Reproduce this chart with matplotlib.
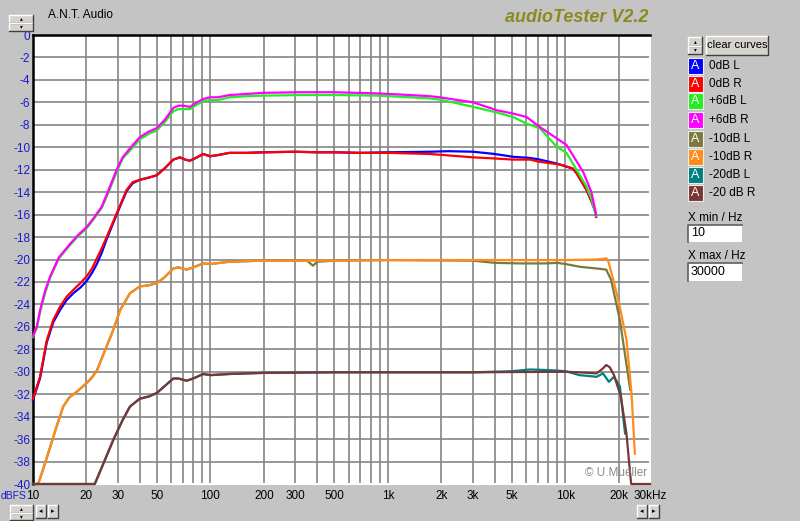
import matplotlib
matplotlib.use("Agg")
import matplotlib.pyplot as plt
from matplotlib.patches import Rectangle

# ---- data (Hz, dBFS) ----
F_0L = [10, 10.95, 11.95, 13.0, 14.2, 15.5, 16.9, 18.5, 20.1, 21.5, 22.9, 24.4, 26, 29.6,
        33.7, 36.5, 40, 45, 49.8, 55, 61.8, 67.3, 72, 76.6, 84, 91, 99.5, 110, 128, 160,
        200, 300, 400, 500, 700, 1000, 1725, 2200, 3026, 4000, 5080, 6300, 7180, 8930,
        11000, 11560, 13160, 14030, 14660, 14900]
DB_0L = [-32.5, -30.6, -27.4, -25.6, -24.5, -23.6, -23.0, -22.5, -21.9, -21.2, -20.4, -19.4,
         -18.2, -16.0, -13.9, -13.2, -12.9, -12.7, -12.5, -11.9, -11.1, -10.9, -11.1, -11.2,
         -10.9, -10.6, -10.8, -10.7, -10.5, -10.5, -10.45, -10.4, -10.45, -10.45, -10.5,
         -10.45, -10.4, -10.35, -10.4, -10.6, -10.85, -10.95, -11.1, -11.45, -11.9, -12.3,
         -13.8, -14.8, -15.6, -16.2]

F_0R = [10, 10.95, 11.95, 13.0, 14.2, 15.5, 16.9, 18.5, 20.1, 21.5, 22.9, 24.4, 26, 29.6,
        33.7, 36.5, 40, 45, 49.8, 55, 61.8, 67.3, 72, 76.6, 84, 91, 99.5, 110, 128, 160,
        200, 300, 400, 500, 700, 1000, 1725, 3026, 4000, 5080, 6310, 7180, 8930, 9680,
        11000, 11560, 13160, 14030, 14660, 14900]
DB_0R = [-32.4, -30.45, -27.2, -25.4, -24.2, -23.3, -22.7, -22.1, -21.5, -20.8, -19.9, -19.0,
         -18.0, -15.9, -13.8, -13.1, -12.9, -12.7, -12.5, -11.9, -11.1, -10.9, -11.1, -11.2,
         -10.9, -10.6, -10.8, -10.7, -10.5, -10.5, -10.45, -10.4, -10.45, -10.45, -10.5,
         -10.5, -10.6, -10.9, -11.0, -11.1, -11.1, -11.3, -11.5, -11.6, -11.9, -12.3,
         -13.8, -14.8, -15.6, -16.2]

F_6 = [10, 10.5, 11, 11.7, 12.5, 14, 16.2, 18, 20.1, 22, 24.4, 27, 29.6, 32, 35.2, 40, 45,
       49.8, 55, 61.8, 66, 70.3, 76.6, 84, 91, 99.5, 110, 128, 160, 200, 319, 500, 864,
       1170, 1725, 1960, 3026, 4095, 5080, 6040, 7180, 8930, 10160]
DB_6L = [-26.9, -26.1, -24.6, -23.0, -21.6, -19.9, -18.7, -17.9, -17.2, -16.4, -15.4, -13.8,
         -12.2, -11.0, -10.3, -9.3, -8.8, -8.5, -7.8, -6.8, -6.6, -6.6, -6.6, -6.2, -5.9,
         -5.8, -5.8, -5.55, -5.45, -5.4, -5.35, -5.35, -5.4, -5.5, -5.65, -5.75, -6.4, -6.9,
         -7.3, -7.9, -8.3, -9.95, -10.5]
F_6L_END = [11560, 13160, 14030, 14860]
DB_6L_END = [-12.0, -13.5, -14.6, -16.1]
DB_6R = [-26.8, -26.0, -24.4, -22.8, -21.5, -19.8, -18.6, -17.8, -17.1, -16.3, -15.3, -13.6,
         -12.0, -10.9, -10.1, -9.1, -8.6, -8.3, -7.6, -6.5, -6.3, -6.3, -6.4, -6.0, -5.7,
         -5.55, -5.55, -5.35, -5.25, -5.15, -5.1, -5.1, -5.2, -5.3, -5.45, -5.55, -6.0, -6.7,
         -7.0, -7.3, -8.2, -9.2, -9.8]
F_6R_END = [12600, 14030, 14660, 14900]
DB_6R_END = [-12.2, -14.0, -15.45, -16.0]

F_M10_LOW = [10, 10.7, 11.5, 12.5, 13.5, 14.8, 16, 17.6, 20.1, 21.5, 22.9, 25, 28.3, 31,
             35.2, 40, 45, 49.8, 55, 61.8, 66, 73.4, 80, 91, 100, 128, 200]
DB_M10_LOW = [-40, -40, -38.5, -36.7, -35.0, -33.1, -32.3, -31.8, -31.0, -30.5, -29.9, -28.4,
              -26.3, -24.5, -23.0, -22.4, -22.3, -22.1, -21.6, -20.8, -20.7, -20.9, -20.7,
              -20.35, -20.4, -20.2, -20.1]
F_M10L_HI = [350, 378, 400, 500, 1000, 3000, 4000, 5540, 7800, 9000, 10000, 12070, 15000,
             17000, 18100, 20300, 23200]
DB_M10L_HI = [-20.1, -20.55, -20.2, -20.1, -20.05, -20.1, -20.3, -20.35, -20.35, -20.3, -20.4,
              -20.65, -20.8, -20.9, -21.8, -25.4, -31.6]
F_M10R_HI = [500, 1000, 3000, 10000, 15000, 17070, 17500, 18620, 20280, 22130, 23600, 24650]
DB_M10R_HI = [-20.1, -20.05, -20.05, -20.05, -20.0, -19.9, -20.2, -21.8, -24.2, -27.2, -31.9,
              -37.3]

F_M20_LOW = [10, 22.3, 28.3, 32, 35.2, 40, 45, 49.8, 55, 61.8, 66, 73.4, 80, 91, 100, 128,
             200, 500, 1000, 3000]
DB_M20_LOW = [-40, -40, -36.1, -34.3, -33.1, -32.4, -32.2, -31.9, -31.3, -30.6, -30.6, -30.8,
              -30.6, -30.2, -30.3, -30.2, -30.1, -30.05, -30.05, -30.05]
F_M20L_HI = [5000, 6300, 8000, 10000, 12000, 15000, 16300, 17600, 18800, 20300, 21700]
DB_M20L_HI = [-29.95, -29.8, -29.85, -29.95, -30.3, -30.45, -30.15, -30.9, -30.45, -31.3, -35.5]
F_M20R_HI = [10000, 12000, 15000, 16300, 17000, 17800, 18800, 19600, 20500, 22100, 23200,
             23500, 30000]
DB_M20R_HI = [-30.0, -30.05, -30.15, -29.7, -29.4, -29.6, -30.3, -31.2, -32.1, -35.5, -39.1,
              -40, -40]

CURVE_NAMES = ["0dB L", "0dB R", "+6dB L", "+6dB R", "-10dB L", "-10dB R", "-20dB L", "-20 dB R"]
CURVE_COLORS = ["#0000ff", "#ff0000", "#22ee22", "#ff00ff", "#7a7a3c", "#ff8c1a", "#008080", "#7a3636"]

CURVES = [
    (F_0L, DB_0L),
    (F_0R, DB_0R),
    (F_6 + F_6L_END, DB_6L + DB_6L_END),
    (F_6 + F_6R_END, DB_6R + DB_6R_END),
    (F_M10_LOW + F_M10L_HI, DB_M10_LOW + DB_M10L_HI),
    (F_M10_LOW + F_M10R_HI, DB_M10_LOW + DB_M10R_HI),
    (F_M20_LOW + F_M20L_HI, DB_M20_LOW + DB_M20L_HI),
    (F_M20_LOW + F_M20R_HI, DB_M20_LOW + DB_M20R_HI),
]

X_TICKS = [10, 20, 30, 50, 100, 200, 300, 500, 1000, 2000, 3000, 5000, 10000, 20000, 30000]
X_LABELS = ["10", "20", "30", "50", "100", "200", "300", "500", "1k", "2k", "3k", "5k",
            "10k", "20k", "30kHz"]
Y_TICKS = list(range(0, -42, -2))

BG = "#c4c4c4"
FACE = "#d6d3ce"
GRID = "#858585"
UI_FONT = ["Liberation Sans", "DejaVu Sans"]
NARROW = ["Liberation Sans Narrow", "Liberation Sans", "DejaVu Sans"]

W, H = 800, 521
fig = plt.figure(figsize=(W / 100, H / 100), dpi=100)
fig.patch.set_facecolor(BG)


def fx(x):
    return x / W


def fy(y):
    return 1 - y / H


def button(x0, y0, w, h, face=FACE):
    # raised windows-style button
    fig.add_artist(Rectangle((fx(x0), fy(y0 + h)), w / W, h / H, transform=fig.transFigure,
                             facecolor=face, edgecolor="none"))
    fig.add_artist(plt.Line2D([fx(x0), fx(x0), fx(x0 + w)], [fy(y0 + h), fy(y0), fy(y0)],
                              transform=fig.transFigure, color="white", lw=1))
    fig.add_artist(plt.Line2D([fx(x0), fx(x0 + w), fx(x0 + w)], [fy(y0 + h), fy(y0 + h), fy(y0)],
                              transform=fig.transFigure, color="#404040", lw=1))


def textbox(x0, y0, w, h, txt):
    fig.add_artist(Rectangle((fx(x0), fy(y0 + h)), w / W, h / H, transform=fig.transFigure,
                             facecolor="white", edgecolor="none"))
    fig.add_artist(plt.Line2D([fx(x0), fx(x0), fx(x0 + w)], [fy(y0 + h), fy(y0), fy(y0)],
                              transform=fig.transFigure, color="#606060", lw=1.2))
    fig.text(fx(x0 + 3), fy(y0 + h / 2), txt, ha="left", va="center", fontsize=9,
             family=UI_FONT, color="black")


def spinner(x0, y0, w, h):
    button(x0, y0, w, h / 2)
    button(x0, y0 + h / 2, w, h / 2)
    fig.text(fx(x0 + w / 2), fy(y0 + h / 4), "\u25b4", ha="center", va="center", fontsize=4)
    fig.text(fx(x0 + w / 2), fy(y0 + 3 * h / 4), "\u25be", ha="center", va="center", fontsize=4)


def arrows(x0, y0):
    button(x0, y0, 10, 13)
    button(x0 + 12, y0, 10, 13)
    fig.text(fx(x0 + 5), fy(y0 + 6.5), "\u25c2", ha="center", va="center", fontsize=5)
    fig.text(fx(x0 + 17), fy(y0 + 6.5), "\u25b8", ha="center", va="center", fontsize=5)


# ---- plot area ----
ax = fig.add_axes([fx(33), fy(484), 617 / W, 449 / H])
ax.set_facecolor("white")
ax.set_xscale("log")
ax.set_xlim(10, 30000)
ax.set_ylim(-40, 0)

grid_f = [m * d for d in (10, 100, 1000) for m in range(1, 10)] + [10000, 20000]
for g in grid_f[1:]:
    ax.axvline(g, color=GRID, lw=1.2, zorder=1)
for g in Y_TICKS[1:-1]:
    ax.axhline(g, color=GRID, lw=1.2, zorder=1)

for (f, db), c in zip(CURVES, CURVE_COLORS):
    ax.plot(f, db, color=c, lw=1.6, zorder=3, clip_on=False)

ax.set_xticks(X_TICKS)
ax.set_xticklabels(X_LABELS)
ax.xaxis.set_minor_locator(matplotlib.ticker.NullLocator())
ax.set_yticks(Y_TICKS)
ax.set_yticklabels([str(v) for v in Y_TICKS])
ax.tick_params(axis="both", length=0, labelsize=8.5)
ax.tick_params(axis="x", pad=4, labelcolor="black")
ax.tick_params(axis="y", pad=2, labelcolor="#1a1acc")
for lbl in ax.get_xticklabels() + ax.get_yticklabels():
    lbl.set_family(UI_FONT)

for side in ("left", "top"):
    ax.spines[side].set_color("black")
    ax.spines[side].set_linewidth(1.8)
for side in ("right", "bottom"):
    ax.spines[side].set_color("white")
    ax.spines[side].set_linewidth(1.5)

ax.text(0.995, 0.012, "\u00a9 U.Mueller", transform=ax.transAxes, ha="right", va="bottom",
        fontsize=8.5, color="#8c8c8c", family=UI_FONT)

fig.text(fx(0.5), fy(496), "dBFS", ha="left", va="center", fontsize=7.5, color="#1a1acc",
         family=NARROW)

# ---- header ----
fig.text(fx(48), fy(15), "A.N.T. Audio", ha="left", va="center", fontsize=8.5,
         family=UI_FONT, color="black")
fig.text(fx(577), fy(17), "audioTester V2.2", ha="center", va="center", fontsize=13,
         fontweight="bold", fontstyle="italic", family=UI_FONT, color="#8a8a22")
spinner(9, 15, 24, 16)

# ---- right panel ----
spinner(688, 37, 14, 17)
button(706, 36, 62, 19)
fig.text(fx(737), fy(45.5), "clear curves", ha="center", va="center", fontsize=8,
         family=UI_FONT, color="black")

row_y = [66, 84, 101, 120, 139, 157, 175, 193]
for yy, name, c in zip(row_y, CURVE_NAMES, CURVE_COLORS):
    fig.add_artist(Rectangle((fx(688), fy(yy + 8)), 15 / W, 16 / H, transform=fig.transFigure,
                             facecolor=c, edgecolor="#eeeeee", lw=0.8))
    fig.text(fx(695.5), fy(yy), "A", ha="center", va="center", fontsize=9, color="white",
             family=UI_FONT)
    fig.text(fx(709), fy(yy), name, ha="left", va="center", fontsize=8.5, color="black",
             family=UI_FONT)

fig.text(fx(688), fy(218), "X min / Hz", ha="left", va="center", fontsize=8.5,
         family=UI_FONT, color="black")
textbox(688, 225, 54, 17, "10")
fig.text(fx(688), fy(256), "X max / Hz", ha="left", va="center", fontsize=8.5,
         family=UI_FONT, color="black")
textbox(688, 263, 54, 18, "30000")

# ---- bottom controls ----
spinner(10, 505, 23, 15)
arrows(36, 505)
arrows(637, 505)

fig.savefig("out.png", dpi=100, facecolor=BG)
